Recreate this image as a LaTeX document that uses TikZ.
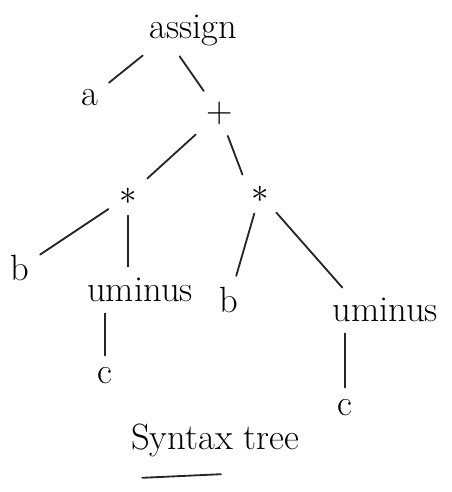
\documentclass[tikz,border=0pt]{standalone}
\usepackage{tikz}

\begin{document}
\begin{tikzpicture}
	\tikzstyle{node} = [inner sep=5pt, font=\fontsize{26}{30}\selectfont]
	\tikzstyle{edge} = [line width=1.3pt, line cap=round, black!85, shorten <=3pt, shorten >=3pt]

	\useasboundingbox (0,0) rectangle (11.275,-12.3);

	\draw (+4.83,-0.75) node[node] (n1) {assign};

	\draw (+2.25,-2.45) node[node] (n11) {a};
	\draw (+5.48,-2.83) node[node] (n12) {+};

	\draw (+3.20,-4.90) node[node] (n121) {$\ast$};
	\draw (+6.50,-4.85) node[node] (n122) {$\ast$};

	\draw (+0.50,-6.70) node[node] (n1211) {b};
	\draw (+3.50,-7.25) node[node] (n1212) {uminus};
	\draw (+5.73,-7.50) node[node] (n1221) {b};
	\draw (+9.63,-7.75) node[node] (n1222) {uminus};

	\draw (+2.63,-9.38) node[node] (n12121) {c};
	\draw (+8.63,-10.18) node[node] (n12221) {c};

	\draw (+5.38,-11.00) node[node] (title) {Syntax tree};
	\draw[edge] (3.45,-11.95) -- (5.63,-11.85);

	\draw[edge] ([xshift=0.1cm]n1.south west) -- (n11);
	\draw[edge] ([xshift=-0.4cm]n1.south) -- (n12);

	\draw[edge] (n12) -- (n121);
	\draw[edge] (n12) -- (n122.north west);

	\draw[edge] (n121) -- (n1211);
	\draw[edge] (n121) -- (n1212.north -| n121);
	\draw[edge] (n122) -- (n1221);
	\draw[edge] (n122) -- ([xshift=0.5cm]n1222.north west);

	\draw[edge] (n1212.south -| n12121) -- (n12121);
	\draw[edge] (n1222.south -| n12221) -- (n12221);
\end{tikzpicture}
\end{document}
